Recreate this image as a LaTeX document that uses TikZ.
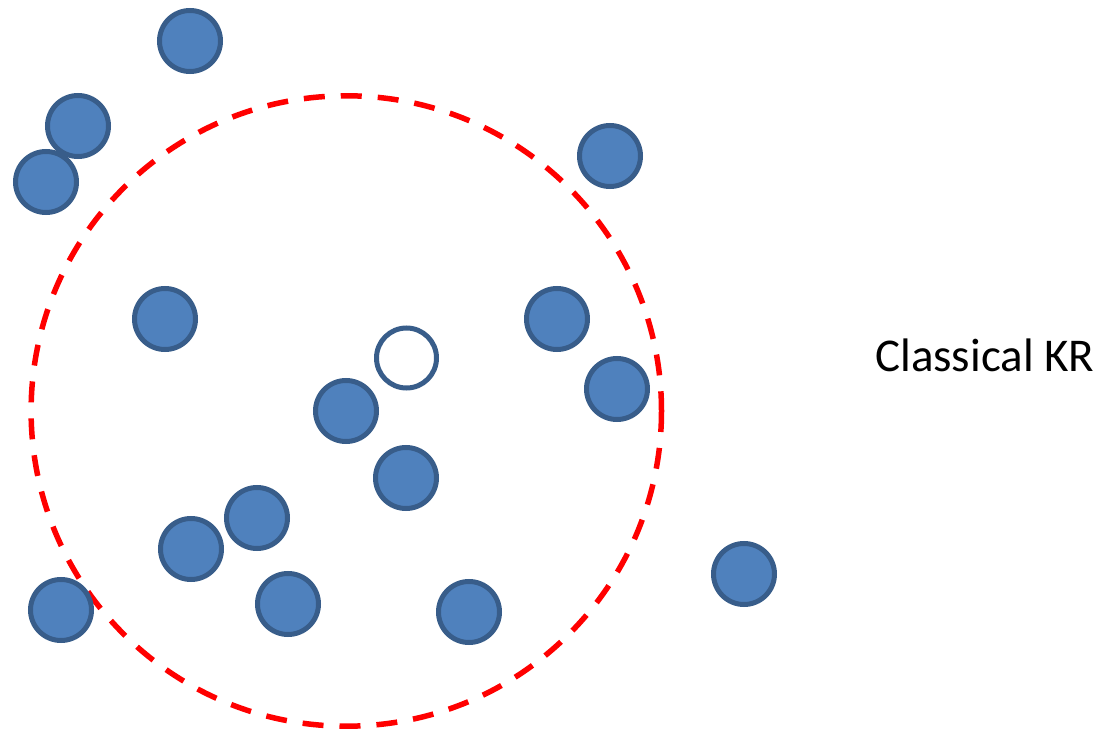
\documentclass[tikz,border=0pt]{standalone}
\usepackage{fontspec}
\setmainfont{Carlito}
\definecolor{dotfill}{HTML}{4F81BD}
\definecolor{dotline}{HTML}{385D8A}
\begin{document}
\begin{tikzpicture}[x=1pt,y=-1pt,
  dot/.style={circle,draw=dotline,fill=dotfill,line width=5pt,minimum size=61pt,inner sep=0pt},
  hollow/.style={circle,draw=dotline,fill=white,line width=5pt,minimum size=60pt,inner sep=0pt},
  ring/.style={draw=red,line width=5.5pt,dash pattern=on 21pt off 16pt}]
\useasboundingbox (0,0) rectangle (1101,730);
\draw[ring] (346.3,411) circle[radius=315.2];
\node[dot] (d1) at (190,41) {};
\node[dot] (d2) at (78,126) {};
\node[dot] (d3) at (46,182) {};
\node[dot] (d4) at (610,156) {};
\node[dot] (d5) at (165,319) {};
\node[dot] (d6) at (557,319) {};
\node[dot] (d7) at (617,389) {};
\node[dot] (d8) at (346,411) {};
\node[dot] (d9) at (406,478) {};
\node[dot] (d10) at (257,518) {};
\node[dot] (d11) at (191,549) {};
\node[dot] (d12) at (288,604) {};
\node[dot] (d13) at (61,610) {};
\node[dot] (d14) at (469,612) {};
\node[dot] (d15) at (744,574) {};
\node[hollow] (q) at (406.5,358) {};
\node[anchor=base west,inner sep=0pt,font=\fontsize{47pt}{56pt}\selectfont] (lbl) at (875,371.7) {Classical KR};
\end{tikzpicture}
\end{document}
